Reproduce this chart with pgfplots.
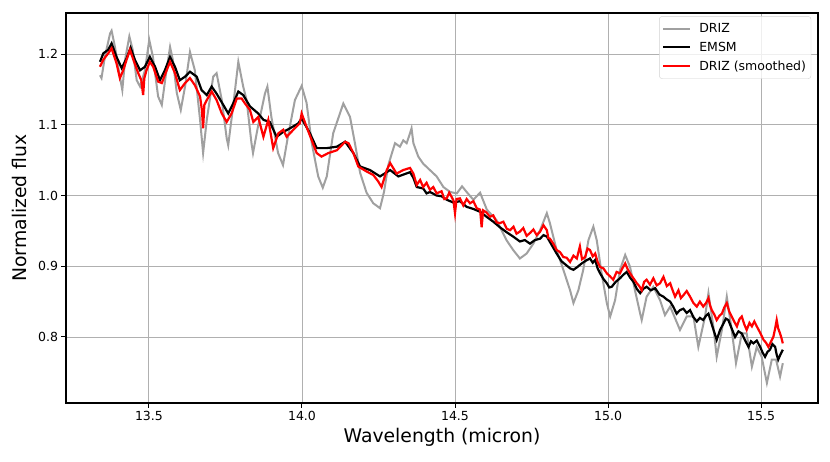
\documentclass[border=0pt]{standalone}
\usepackage{fontspec}
\setmainfont{DejaVu Sans}
\usepackage{pgfplots}
\pgfplotsset{compat=1.18}
\definecolor{drizgray}{RGB}{160,160,160}
\definecolor{gridgray}{RGB}{176,176,176}
\begin{document}
\begin{tikzpicture}
\begin{axis}[
  at={(66pt,58pt)}, anchor=south west,
  scale only axis, width=752pt, height=390pt,
  xmin=13.229, xmax=15.686, ymin=0.7067, ymax=1.258,
  xtick={13.5,14.0,14.5,15.0,15.5},
  ytick={0.8,0.9,1.0,1.1,1.2},
  /pgf/number format/assume math mode=true,
  xticklabel style={/pgf/number format/.cd,fixed,fixed zerofill,precision=1},
  yticklabel style={/pgf/number format/.cd,fixed,fixed zerofill,precision=1},
  tick label style={font=\fontsize{12.5}{14}\selectfont, text=black},
  tick align=outside, tick pos=left,
  major tick length=4.5pt,
  every tick/.style={black, line width=1pt},
  axis line style={line width=2pt, black},
  grid=major,
  major grid style={gridgray, line width=0.9pt},
  xlabel={Wavelength (micron)},
  ylabel={Normalized flux},
  label style={font=\fontsize{18.8}{22}\selectfont},
  xlabel style={at={(axis description cs:0.5,-0.087)}, anchor=center},
  ylabel style={at={(axis description cs:-0.0612,0.5)}, anchor=center},
  legend style={at={(0.991,0.992)}, anchor=north east, font=\fontsize{12.5}{14}\selectfont,
    draw=gray!35, rounded corners=3pt, fill=white, fill opacity=0.8, text opacity=1,
    row sep=4pt, inner xsep=3pt, inner ysep=5pt,
    /tikz/every even column/.append style={column sep=0pt}},
  legend cell align=left,
  legend image code/.code={\draw[#1, line width=1.8pt] (0pt,0pt) -- (27pt,0pt); \path (33pt,0pt);},
  clip=true,
]
\addplot[drizgray, line width=2pt] coordinates {
(13.340,1.170)(13.345,1.166)(13.356,1.196)(13.373,1.229)(13.378,1.233)(13.389,1.210)
(13.405,1.168)(13.413,1.149)(13.422,1.192)(13.436,1.225)(13.447,1.206)(13.460,1.163)
(13.471,1.154)(13.487,1.177)(13.501,1.220)(13.513,1.196)(13.530,1.140)(13.542,1.128)
(13.556,1.173)(13.569,1.210)(13.578,1.192)(13.591,1.145)(13.604,1.121)(13.618,1.154)
(13.634,1.203)(13.650,1.177)(13.667,1.107)(13.677,1.060)(13.689,1.107)(13.710,1.168)
(13.721,1.173)(13.738,1.135)(13.754,1.081)(13.759,1.071)(13.775,1.126)(13.792,1.189)
(13.808,1.154)(13.819,1.135)(13.835,1.074)(13.840,1.060)(13.856,1.097)(13.879,1.144)
(13.887,1.154)(13.900,1.111)(13.922,1.060)(13.938,1.043)(13.954,1.083)(13.977,1.135)
(13.999,1.155)(14.015,1.131)(14.032,1.074)(14.053,1.027)(14.068,1.011)(14.081,1.027)
(14.102,1.088)(14.135,1.130)(14.157,1.111)(14.173,1.074)(14.190,1.032)(14.211,1.004)
(14.233,0.989)(14.249,0.984)(14.255,0.982)(14.268,1.005)(14.282,1.043)(14.294,1.060)
(14.304,1.074)(14.320,1.069)(14.331,1.078)(14.342,1.074)(14.350,1.084)(14.358,1.095)
(14.364,1.074)(14.380,1.055)(14.396,1.045)(14.418,1.036)(14.440,1.027)(14.462,1.012)
(14.484,1.005)(14.506,1.003)(14.523,1.013)(14.538,1.005)(14.560,0.994)(14.582,1.004)
(14.604,0.980)(14.636,0.965)(14.668,0.937)(14.690,0.923)(14.712,0.911)(14.734,0.918)
(14.756,0.932)(14.778,0.951)(14.800,0.975)(14.810,0.961)(14.832,0.923)(14.854,0.895)
(14.876,0.866)(14.887,0.848)(14.903,0.866)(14.919,0.895)(14.936,0.937)(14.952,0.956)
(14.963,0.937)(14.979,0.890)(14.996,0.848)(15.007,0.829)(15.023,0.852)(15.039,0.895)
(15.056,0.916)(15.072,0.899)(15.088,0.866)(15.105,0.833)(15.110,0.824)(15.126,0.857)
(15.148,0.871)(15.170,0.852)(15.186,0.831)(15.203,0.843)(15.235,0.810)(15.257,0.829)
(15.279,0.829)(15.295,0.786)(15.317,0.829)(15.328,0.862)(15.344,0.815)(15.355,0.772)
(15.372,0.810)(15.388,0.857)(15.404,0.810)(15.418,0.763)(15.437,0.805)(15.453,0.805)
(15.470,0.758)(15.486,0.786)(15.502,0.772)(15.519,0.735)(15.535,0.768)(15.549,0.768)
(15.562,0.744)(15.571,0.763)
};
\addlegendentry{DRIZ}
\addplot[black, line width=2.2pt] coordinates {
(13.340,1.189)(13.351,1.201)(13.367,1.206)(13.378,1.215)(13.394,1.196)(13.411,1.180)
(13.427,1.194)(13.440,1.209)(13.454,1.192)(13.471,1.177)(13.487,1.182)(13.503,1.196)
(13.520,1.182)(13.536,1.163)(13.552,1.177)(13.569,1.196)(13.585,1.182)(13.601,1.163)
(13.618,1.168)(13.634,1.175)(13.656,1.168)(13.672,1.149)(13.689,1.142)(13.705,1.154)
(13.721,1.144)(13.743,1.128)(13.759,1.116)(13.775,1.130)(13.792,1.147)(13.808,1.142)
(13.830,1.126)(13.857,1.116)(13.874,1.107)(13.895,1.104)(13.917,1.083)(13.939,1.090)
(13.961,1.095)(13.988,1.102)(13.999,1.109)(14.026,1.088)(14.048,1.067)(14.081,1.067)
(14.114,1.069)(14.141,1.076)(14.168,1.060)(14.190,1.041)(14.222,1.036)(14.255,1.027)
(14.288,1.036)(14.315,1.027)
(14.353,1.033)(14.364,1.025)(14.375,1.012)(14.396,1.010)(14.407,1.003)(14.418,1.005)
(14.440,1.000)(14.456,0.999)(14.473,0.994)(14.495,0.990)(14.516,0.992)(14.538,0.984)
(14.560,0.981)(14.582,0.977)(14.603,0.970)(14.625,0.963)(14.647,0.955)(14.669,0.948)
(14.690,0.942)(14.712,0.935)(14.728,0.937)(14.745,0.932)(14.761,0.937)(14.778,0.939)
(14.789,0.944)(14.800,0.942)(14.816,0.930)(14.832,0.918)(14.848,0.907)(14.865,0.901)
(14.876,0.897)(14.887,0.895)(14.900,0.899)(14.914,0.904)(14.928,0.908)(14.941,0.911)
(14.950,0.905)(14.958,0.909)(14.966,0.897)(14.974,0.890)(14.985,0.882)(14.996,0.876)
(15.004,0.870)(15.012,0.871)(15.025,0.878)(15.039,0.883)(15.050,0.888)(15.061,0.892)
(15.072,0.884)(15.083,0.878)(15.094,0.868)(15.105,0.862)(15.115,0.868)(15.126,0.871)
(15.140,0.866)(15.154,0.869)(15.168,0.860)(15.181,0.857)(15.192,0.853)(15.203,0.850)
(15.214,0.842)(15.224,0.833)(15.235,0.838)(15.246,0.840)(15.257,0.834)(15.268,0.838)
(15.279,0.828)(15.290,0.822)(15.300,0.827)(15.311,0.824)(15.320,0.830)(15.328,0.833)
(15.341,0.815)(15.355,0.796)(15.366,0.810)(15.377,0.819)(15.385,0.826)(15.393,0.824)
(15.404,0.812)(15.415,0.800)(15.426,0.808)(15.437,0.805)(15.448,0.795)(15.459,0.786)
(15.467,0.794)(15.475,0.791)(15.486,0.795)(15.497,0.786)(15.505,0.778)(15.513,0.772)
(15.521,0.779)(15.529,0.782)(15.537,0.790)(15.546,0.786)(15.551,0.775)(15.556,0.768)
(15.564,0.776)(15.571,0.782)
};
\addlegendentry{EMSM}
\addplot[red, line width=2.2pt] coordinates {
(13.340,1.182)(13.351,1.192)(13.367,1.201)(13.378,1.208)(13.394,1.187)(13.405,1.166)
(13.416,1.177)(13.427,1.192)(13.438,1.206)(13.449,1.192)(13.465,1.173)(13.475,1.163)
(13.481,1.142)(13.485,1.166)(13.492,1.177)(13.503,1.189)(13.514,1.182)(13.530,1.161)
(13.542,1.159)(13.558,1.177)(13.569,1.189)(13.585,1.173)(13.601,1.149)(13.618,1.159)
(13.634,1.166)(13.650,1.156)(13.667,1.140)(13.673,1.121)(13.677,1.095)(13.681,1.128)
(13.689,1.135)(13.705,1.147)(13.721,1.135)(13.738,1.116)(13.754,1.104)(13.770,1.116)
(13.787,1.137)(13.803,1.137)(13.814,1.130)(13.830,1.121)(13.841,1.104)(13.857,1.111)
(13.874,1.083)(13.890,1.107)(13.906,1.067)(13.923,1.088)(13.939,1.093)(13.950,1.083)
(13.972,1.093)(13.993,1.102)(13.999,1.116)(14.015,1.097)(14.032,1.078)(14.048,1.060)
(14.064,1.055)(14.086,1.060)(14.114,1.064)(14.141,1.076)(14.152,1.074)(14.168,1.060)
(14.184,1.041)(14.211,1.034)(14.233,1.029)(14.249,1.020)(14.260,1.012)(14.277,1.036)
(14.288,1.046)(14.309,1.031)(14.331,1.036)(14.353,1.039)(14.364,1.031)
(14.375,1.015)(14.386,1.022)(14.396,1.012)(14.407,1.018)(14.418,1.008)(14.429,1.012)
(14.440,1.003)(14.456,1.006)(14.465,0.995)(14.473,0.996)(14.481,1.004)(14.489,0.998)
(14.495,0.993)(14.500,0.975)(14.505,0.995)(14.516,0.996)(14.527,0.986)(14.538,0.995)
(14.549,0.989)(14.560,0.992)(14.571,0.982)(14.582,0.980)(14.587,0.955)(14.592,0.979)
(14.603,0.976)(14.614,0.970)(14.625,0.972)(14.636,0.962)(14.647,0.961)(14.658,0.963)
(14.669,0.953)(14.680,0.951)(14.691,0.956)(14.701,0.946)(14.712,0.949)(14.723,0.954)
(14.734,0.943)(14.745,0.947)(14.756,0.952)(14.767,0.944)(14.778,0.949)(14.789,0.958)
(14.800,0.951)(14.805,0.940)(14.810,0.939)(14.821,0.932)(14.832,0.923)(14.843,0.920)
(14.854,0.913)(14.865,0.912)(14.876,0.906)(14.887,0.915)(14.898,0.911)(14.908,0.928)
(14.915,0.910)(14.925,0.913)(14.933,0.925)(14.941,0.923)(14.950,0.914)(14.958,0.918)
(14.966,0.906)(14.974,0.899)(14.985,0.897)(14.996,0.890)(15.006,0.886)(15.017,0.881)
(15.028,0.892)(15.039,0.890)(15.048,0.898)(15.056,0.904)(15.064,0.896)(15.072,0.890)
(15.083,0.883)(15.094,0.876)(15.102,0.872)(15.110,0.866)(15.118,0.878)(15.126,0.881)
(15.137,0.874)(15.148,0.883)(15.159,0.873)(15.170,0.876)(15.181,0.885)(15.192,0.872)
(15.203,0.876)(15.211,0.866)(15.219,0.857)(15.230,0.866)(15.238,0.855)(15.246,0.859)
(15.257,0.865)(15.268,0.857)(15.279,0.848)(15.290,0.843)(15.300,0.850)(15.311,0.843)
(15.320,0.848)(15.328,0.855)(15.333,0.845)(15.339,0.838)(15.347,0.832)(15.355,0.824)
(15.364,0.830)(15.372,0.833)(15.380,0.842)(15.388,0.848)(15.396,0.836)(15.404,0.829)
(15.412,0.822)(15.421,0.815)(15.429,0.825)(15.437,0.829)(15.445,0.818)(15.453,0.810)
(15.462,0.820)(15.470,0.815)(15.478,0.822)(15.486,0.815)(15.497,0.806)(15.508,0.796)
(15.516,0.792)(15.524,0.786)(15.532,0.793)(15.540,0.800)(15.546,0.812)(15.551,0.824)
(15.556,0.812)(15.562,0.805)(15.567,0.798)(15.571,0.791)
};
\addlegendentry{DRIZ (smoothed)}
\end{axis}
\pgfresetboundingbox
\path[use as bounding box] (0,0) rectangle (830pt,461pt);
\end{tikzpicture}
\end{document}
